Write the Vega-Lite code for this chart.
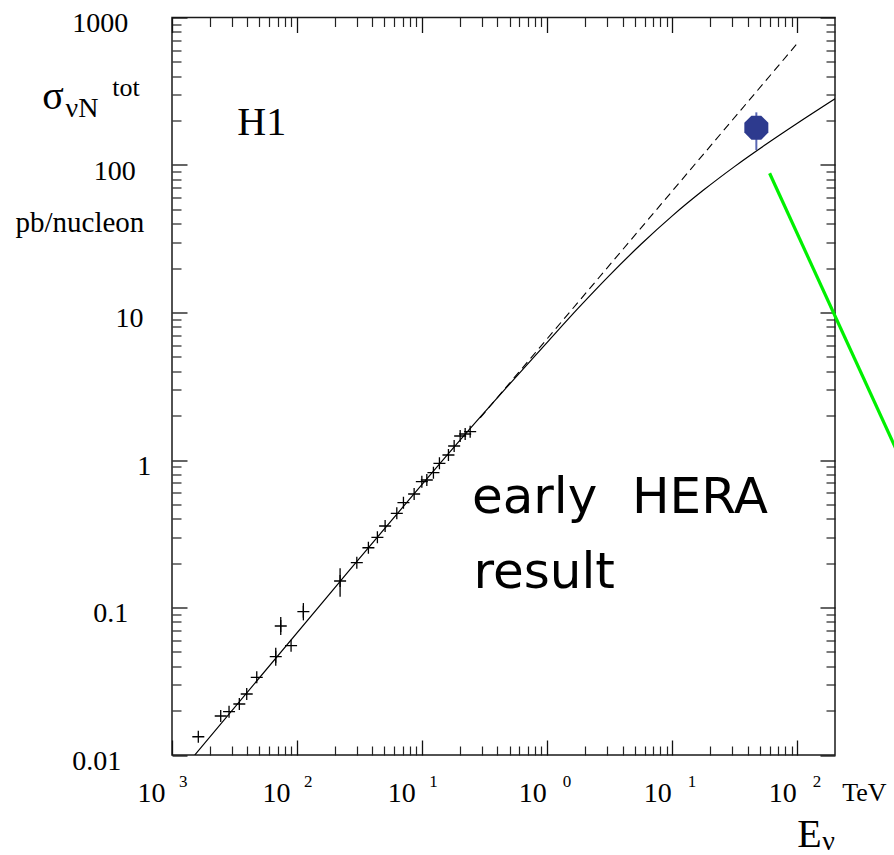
{
  "$schema": "https://vega.github.io/schema/vega-lite/v6.json",
  "width": 663,
  "height": 737.5,
  "autosize": "none",
  "padding": {"left": 172, "top": 17.5, "right": 59, "bottom": 100},
  "background": "white",
  "config": {
    "view": {"stroke": "#1a1a1a", "strokeWidth": 1.5},
    "font": "Liberation Serif",
    "axis": {
      "labelFont": "Liberation Serif",
      "titleFont": "Liberation Serif",
      "labelColor": "#000",
      "titleColor": "#000",
      "titleFontWeight": "normal",
      "grid": false,
      "labelFlush": false,
      "labelOverlap": false,
      "labelBound": false,
      "tickColor": "#222",
      "tickWidth": 1.2,
      "domain": false
    }
  },
  "datasets": {
    "pts": [
      {"E": 0.001623, "s": 0.0133},
      {"E": 0.002452, "s": 0.01838},
      {"E": 0.002858, "s": 0.01966},
      {"E": 0.003454, "s": 0.02217},
      {"E": 0.003958, "s": 0.02592},
      {"E": 0.004761, "s": 0.03363},
      {"E": 0.006753, "s": 0.04638, "lo": 0.0403, "hi": 0.0534},
      {"E": 0.007405, "s": 0.07491, "lo": 0.0651, "hi": 0.0862},
      {"E": 0.008954, "s": 0.05508},
      {"E": 0.01123, "s": 0.09366, "lo": 0.0818, "hi": 0.1072},
      {"E": 0.02208, "s": 0.1512, "lo": 0.1185, "hi": 0.1842},
      {"E": 0.03004, "s": 0.2012},
      {"E": 0.03718, "s": 0.2542},
      {"E": 0.04388, "s": 0.2991},
      {"E": 0.05058, "s": 0.3568},
      {"E": 0.06272, "s": 0.4351},
      {"E": 0.07088, "s": 0.5134},
      {"E": 0.0863, "s": 0.5882},
      {"E": 0.09945, "s": 0.7127},
      {"E": 0.109, "s": 0.7318},
      {"E": 0.1231, "s": 0.8202},
      {"E": 0.1375, "s": 0.9497},
      {"E": 0.1623, "s": 1.081},
      {"E": 0.1803, "s": 1.244},
      {"E": 0.2014, "s": 1.454},
      {"E": 0.2208, "s": 1.501},
      {"E": 0.2421, "s": 1.556}
    ],
    "curve": [
      {"E": 0.00152, "s": 0.01},
      {"E": 0.0221, "s": 0.1505},
      {"E": 0.291, "s": 1.95},
      {"E": 1.0, "s": 6.28},
      {"E": 1.778, "s": 10.74},
      {"E": 3.162, "s": 17.93},
      {"E": 5.623, "s": 29.0},
      {"E": 10.0, "s": 45.2},
      {"E": 17.78, "s": 67.6},
      {"E": 31.62, "s": 97.9},
      {"E": 56.23, "s": 138.1},
      {"E": 100, "s": 191.7},
      {"E": 201, "s": 281.6}
    ],
    "lin": [
      {"E": 0.291, "s": 1.93},
      {"E": 100, "s": 668}
    ],
    "green": [
      {"E": 60.0, "s": 87.9},
      {"E": 667, "s": 1.02}
    ],
    "h1": [
      {"E": 47.0, "s": 179, "lo": 126.4, "hi": 227.5}
    ],
    "words": [
      {"w": "early", "E": 0.25, "s": 0.4395},
      {"w": "HERA", "E": 4.76, "s": 0.4395},
      {"w": "result", "E": 0.2572, "s": 0.1349}
    ]
  },
  "resolve": {"axis": {"x": "independent", "y": "independent"}},
  "layer": [
    {
      "data": {"name": "pts"},
      "transform": [{"filter": "isValid(datum.lo)"}],
      "mark": {"type": "rule", "color": "black", "strokeWidth": 1.3},
      "encoding": {
        "x": {"field": "E", "type": "quantitative",
          "scale": {"type": "log", "domain": [0.001, 200], "nice": false},
          "axis": {"orient": "bottom", "values": [0.001, 0.01, 0.1, 1, 10, 100], "ticks": false,
            "labelExpr": "'10'",
            "labelFont": "Liberation Serif", "titleFont": "Liberation Serif",
            "labelAlign": "right",
            "labelOffset": {"condition": {"test": "datum.value < 0.5", "value": -7}, "value": -1},
            "labelBaseline": "alphabetic", "labelPadding": 46, "labelFontSize": 28,
            "title": "E", "titleX": 624.7, "titleY": 91, "titleAlign": "left", "titleBaseline": "alphabetic", "titleFontSize": 40}},
        "y": {"field": "lo", "type": "quantitative",
          "scale": {"type": "log", "domain": [0.01, 1000], "nice": false},
          "axis": {"orient": "left", "values": [0.01, 0.1, 1, 10, 100, 1000], "ticks": false,
            "labelExpr": "datum.value > 500 ? '1000' : datum.value > 50 ? '100' : datum.value > 5 ? '10' : datum.value > 0.5 ? '1' : datum.value > 0.05 ? '0.1' : '0.01'",
            "labelFont": "Liberation Serif", "titleFont": "Liberation Serif",
            "labelAlign": "left", "labelBaseline": "middle", "labelOffset": 6,
            "labelPadding": {"condition": [
              {"test": "datum.value > 50 && datum.value < 500", "value": 78.7},
              {"test": "datum.value > 5 && datum.value < 50", "value": 57},
              {"test": "datum.value > 0.5 && datum.value < 5", "value": 35.3},
              {"test": "datum.value > 0.05 && datum.value < 0.5", "value": 79.3}
            ], "value": 100.3},
            "labelFontSize": 28,
            "title": "pb/nucleon", "titleAngle": 0, "titleX": -157, "titleY": 214, "titleAlign": "left", "titleBaseline": "alphabetic", "titleFontSize": 29}},
        "y2": {"field": "hi"}
      }
    },
    {
      "data": {"name": "pts"},
      "mark": {"type": "point", "shape": "M-1,0H1M0,-1V1", "filled": false, "stroke": "black", "strokeWidth": 1.3, "size": 144, "opacity": 1},
      "encoding": {
        "x": {"field": "E", "type": "quantitative",
          "scale": {"type": "log", "domain": [0.001, 200], "nice": false},
          "axis": {"orient": "bottom", "values": [0.001, 0.01, 0.1, 1, 10, 100], "ticks": false,
            "labelExpr": "'' + abs(round(log(datum.value) / LN10))",
            "labelFont": "Liberation Serif", "titleFont": "Liberation Serif",
            "labelAlign": "left",
            "labelOffset": {"condition": {"test": "datum.value < 0.5", "value": 6.5}, "value": 15},
            "labelBaseline": "alphabetic", "labelPadding": 31, "labelFontSize": 17,
            "title": "ν", "titleX": 649.7, "titleY": 94, "titleAlign": "left", "titleBaseline": "alphabetic", "titleFontSize": 28}},
        "y": {"field": "s", "type": "quantitative",
          "scale": {"type": "log", "domain": [0.01, 1000], "nice": false},
          "axis": {"orient": "left", "values": [0.01, 0.1, 1, 10, 100, 1000], "labels": false, "tickSize": -15, "tickColor": "#111", "tickWidth": 1.3,
            "titleFont": "Liberation Serif",
            "title": "σ", "titleAngle": 0, "titleX": -130.3, "titleY": 90.8, "titleAlign": "left", "titleBaseline": "alphabetic", "titleFontSize": 40}}
      }
    },
    {
      "data": {"name": "curve"},
      "mark": {"type": "line", "color": "black", "strokeWidth": 1.2, "interpolate": "monotone", "clip": true},
      "encoding": {
        "x": {"field": "E", "type": "quantitative",
          "scale": {"type": "log", "domain": [0.001, 200], "nice": false},
          "axis": {"orient": "bottom", "values": [0.001, 0.01, 0.1, 1, 10, 100], "labels": false, "tickSize": -15, "tickColor": "#111", "tickWidth": 1.3, "title": null}},
        "y": {"field": "s", "type": "quantitative",
          "scale": {"type": "log", "domain": [0.01, 1000], "nice": false},
          "axis": {"orient": "left", "values": [0.02, 0.03, 0.04, 0.05, 0.06, 0.07, 0.08, 0.09, 0.2, 0.3, 0.4, 0.5, 0.6, 0.7, 0.8, 0.9, 2, 3, 4, 5, 6, 7, 8, 9, 20, 30, 40, 50, 60, 70, 80, 90, 200, 300, 400, 500, 600, 700, 800, 900],
            "labels": false, "tickSize": -9,
            "titleFont": "Liberation Serif",
            "title": "νN", "titleAngle": 0, "titleX": -107, "titleY": 99.2, "titleAlign": "left", "titleBaseline": "alphabetic", "titleFontSize": 28}}
      }
    },
    {
      "data": {"name": "lin"},
      "mark": {"type": "line", "color": "black", "strokeWidth": 1.1, "strokeDash": [8, 5], "clip": true},
      "encoding": {
        "x": {"field": "E", "type": "quantitative",
          "scale": {"type": "log", "domain": [0.001, 200], "nice": false},
          "axis": {"orient": "bottom", "values": [0.002, 0.003, 0.004, 0.005, 0.006, 0.007, 0.008, 0.009, 0.02, 0.03, 0.04, 0.05, 0.06, 0.07, 0.08, 0.09, 0.2, 0.3, 0.4, 0.5, 0.6, 0.7, 0.8, 0.9, 2, 3, 4, 5, 6, 7, 8, 9, 20, 30, 40, 50, 60, 70, 80, 90],
            "labels": false, "tickSize": -9,
            "titleFont": "Liberation Serif",
            "title": "TeV", "titleX": 669.7, "titleY": 45.7, "titleAlign": "left", "titleBaseline": "alphabetic", "titleFontSize": 26}},
        "y": {"field": "s", "type": "quantitative",
          "scale": {"type": "log", "domain": [0.01, 1000], "nice": false},
          "axis": {"orient": "right", "values": [0.01, 0.1, 1, 10, 100, 1000], "labels": false, "tickSize": -15, "tickColor": "#111", "tickWidth": 1.3,
            "titleFont": "Liberation Serif",
            "title": "tot", "titleAngle": 0, "titleX": -723.3, "titleY": 77.5, "titleAlign": "left", "titleBaseline": "alphabetic", "titleFontSize": 26}}
      }
    },
    {
      "data": {"name": "green"},
      "mark": {"type": "line", "color": "#00f000", "strokeWidth": 3.2, "clip": false},
      "encoding": {
        "x": {"field": "E", "type": "quantitative",
          "scale": {"type": "log", "domain": [0.001, 200], "nice": false},
          "axis": {"orient": "top", "values": [0.001, 0.01, 0.1, 1, 10, 100], "labels": false, "tickSize": -15, "tickColor": "#111", "tickWidth": 1.3, "title": null}},
        "y": {"field": "s", "type": "quantitative",
          "scale": {"type": "log", "domain": [0.01, 1000], "nice": false},
          "axis": {"orient": "right", "values": [0.02, 0.03, 0.04, 0.05, 0.06, 0.07, 0.08, 0.09, 0.2, 0.3, 0.4, 0.5, 0.6, 0.7, 0.8, 0.9, 2, 3, 4, 5, 6, 7, 8, 9, 20, 30, 40, 50, 60, 70, 80, 90, 200, 300, 400, 500, 600, 700, 800, 900],
            "labels": false, "tickSize": -9, "title": null}}
      }
    },
    {
      "data": {"name": "h1"},
      "mark": {"type": "rule", "color": "#5a68b4", "strokeWidth": 2},
      "encoding": {
        "x": {"field": "E", "type": "quantitative",
          "scale": {"type": "log", "domain": [0.001, 200], "nice": false},
          "axis": {"orient": "top", "values": [0.002, 0.003, 0.004, 0.005, 0.006, 0.007, 0.008, 0.009, 0.02, 0.03, 0.04, 0.05, 0.06, 0.07, 0.08, 0.09, 0.2, 0.3, 0.4, 0.5, 0.6, 0.7, 0.8, 0.9, 2, 3, 4, 5, 6, 7, 8, 9, 20, 30, 40, 50, 60, 70, 80, 90],
            "labels": false, "tickSize": -9, "title": null}},
        "y": {"field": "lo", "type": "quantitative",
          "scale": {"type": "log", "domain": [0.01, 1000], "nice": false}, "axis": null},
        "y2": {"field": "hi"}
      }
    },
    {
      "data": {"name": "h1"},
      "mark": {"type": "point", "shape": "M-0.41,-1L0.41,-1L1,-0.41L1,0.41L0.41,1L-0.41,1L-1,0.41L-1,-0.41Z", "filled": true, "color": "#2d3a8e", "size": 576, "opacity": 1},
      "encoding": {
        "x": {"field": "E", "type": "quantitative",
          "scale": {"type": "log", "domain": [0.001, 200], "nice": false}, "axis": null},
        "y": {"field": "s", "type": "quantitative",
          "scale": {"type": "log", "domain": [0.01, 1000], "nice": false}, "axis": null}
      }
    },
    {
      "data": {"values": [{"label": "H1"}]},
      "mark": {"type": "text", "font": "Liberation Serif", "fontSize": 40, "align": "center", "baseline": "alphabetic", "color": "black"},
      "encoding": {
        "text": {"field": "label"},
        "x": {"datum": 0.00522, "type": "quantitative",
          "scale": {"type": "log", "domain": [0.001, 200], "nice": false}, "axis": null},
        "y": {"datum": 160, "type": "quantitative",
          "scale": {"type": "log", "domain": [0.01, 1000], "nice": false}, "axis": null}
      }
    },
    {
      "data": {"name": "words"},
      "mark": {"type": "text", "font": "DejaVu Sans", "fontSize": 50, "align": "left", "baseline": "alphabetic", "color": "black"},
      "encoding": {
        "text": {"field": "w"},
        "x": {"field": "E", "type": "quantitative",
          "scale": {"type": "log", "domain": [0.001, 200], "nice": false}, "axis": null},
        "y": {"field": "s", "type": "quantitative",
          "scale": {"type": "log", "domain": [0.01, 1000], "nice": false}, "axis": null}
      }
    }
  ]
}
